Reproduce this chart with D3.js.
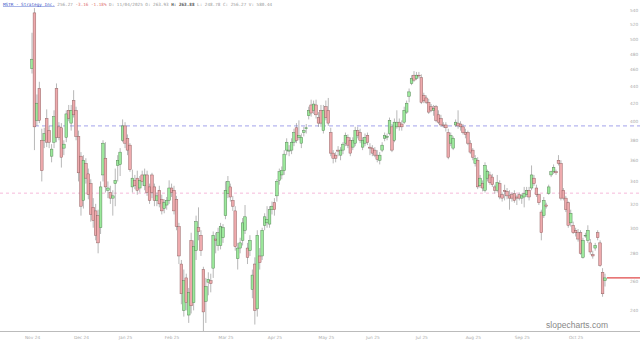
<!DOCTYPE html>
<html>
<head>
<meta charset="utf-8">
<script src="https://cdn.jsdelivr.net/npm/d3@7"></script>
<style>
  body { margin: 0; background: #fff; }
  svg { display: block; }
</style>
</head>
<body>
<svg id="chart" width="640" height="343"></svg>
<script>
// daily candles, MSTR
const opens = [461,536,401,437,380,380,403,390,364,378,437,394,393,372,383,412,398,423,412,384,364,323,357,347,338,317,314,310,300,346,362,332,330,325,338,355,356,380,395,382,375,335,341,343,334,346,336,346,335,346,335,323,332,324,316,319,323,334,332,324,301,272,240,262,237,290,245,282,300,294,268,246,259,260,269,291,286,286,292,310,329,335,323,314,276,284,290,298,284,282,254,272,241,278,278,302,304,303,315,321,327,341,346,350,370,369,370,378,393,383,377,388,392,406,418,412,418,404,
  412,390,416,412,388,367,365,370,365,370,377,383,380,373,377,390,388,373,377,385,373,372,370,365,360,370,382,383,387,394,380,394,399,397,399,410,428,443,453,449,453,450,429,426,421,416,412,416,407,403,396,396,388,377,372,396,398,397,394,388,388,377,370,357,360,336,
  338,332,343,346,344,335,332,338,328,332,331,327,328,329,326,328,325,326,328,332,334,343,334,328,313,310,319,329,346,349,349,360,357,332,325,321,304,302,298,296,296,277,294,290,288,279,284,296,288,266,260];
const highs = [508,543,430,445,392,393,413,395,376,412,443,399,398,380,412,418,418,435,416,390,368,365,362,352,342,325,320,315,340,380,378,340,336,332,352,365,372,402,399,386,377,351,346,350,345,350,352,350,338,348,338,330,336,328,324,326,341,338,336,327,304,275,268,265,255,296,290,310,317,298,270,262,266,265,297,296,300,304,303,340,345,338,327,318,288,292,308,319,288,294,268,277,298,284,300,312,318,318,322,325,342,352,354,370,382,375,382,392,398,401,387,394,397,416,424,423,424,410,
  418,418,423,426,393,370,368,374,373,378,388,386,383,383,394,394,392,383,387,388,377,375,373,370,368,378,388,387,404,397,403,412,403,401,416,423,437,453,458,457,457,454,432,429,425,419,418,418,412,407,399,399,392,388,384,402,412,400,397,392,390,380,372,365,363,346,
  341,358,351,349,347,337,346,341,330,337,334,332,330,332,328,330,329,335,335,335,355,346,337,329,315,326,321,337,350,356,351,365,360,334,327,322,315,305,300,299,298,292,296,302,291,282,288,298,290,269,265];
const lows = [455,370,395,398,340,372,373,372,358,372,378,380,353,365,378,400,390,404,380,340,310,316,338,324,305,300,290,280,295,340,330,325,320,310,318,340,345,378,372,365,349,330,333,328,330,336,332,327,320,325,318,318,317,311,312,315,320,326,311,298,272,244,236,240,232,238,240,275,290,278,227,232,250,252,262,280,282,283,288,307,325,322,314,282,268,280,286,295,272,278,248,231,236,268,275,298,300,300,311,310,322,337,342,346,365,364,366,374,377,380,372,384,387,402,405,408,403,394,
  394,387,401,395,364,357,358,364,360,366,374,372,364,370,374,382,377,370,374,375,365,364,363,358,356,368,379,380,385,368,378,392,390,390,397,408,421,441,445,447,449,419,420,419,408,410,406,399,397,394,393,389,361,374,370,394,392,390,386,382,375,366,360,354,333,334,
  331,330,340,337,335,329,330,324,322,323,324,315,322,321,319,323,320,317,326,323,332,336,326,319,290,308,316,328,344,347,346,355,323,323,313,300,301,295,293,289,279,276,292,288,279,276,282,290,270,249,256];
const closes = [473,394,420,401,350,387,378,378,371,405,383,383,363,376,408,403,412,407,384,348,318,360,343,328,311,306,294,288,335,377,335,334,325,327,341,360,368,395,377,370,351,343,336,332,341,340,346,330,323,330,323,327,320,314,321,323,334,330,314,301,278,251,260,245,252,243,285,305,297,282,239,256,261,258,294,290,296,301,300,332,340,326,318,285,284,288,304,309,277,290,264,240,294,273,298,309,307,315,318,315,340,349,350,366,378,370,378,388,380,385,383,390,393,412,409,419,407,398,
  398,412,404,398,367,362,362,369,370,376,385,375,367,380,390,385,380,380,383,378,372,367,365,361,365,375,385,384,401,370,399,399,394,394,412,420,433,449,447,453,452,421,423,421,410,412,414,401,399,396,395,393,363,385,382,399,395,394,388,386,377,368,363,362,335,343,
  334,355,349,339,337,332,339,326,325,331,327,325,325,323,325,325,327,329,332,326,346,338,328,321,296,323,318,335,349,353,348,357,325,325,315,302,312,296,296,291,280,290,294,298,281,278,286,292,271,251,262];

// x-axis tick labels and the bar they sit under
const tickIdx = [0, 20, 38, 57, 79, 99, 120, 139, 159, 180, 200, 222];
const tickLabels = ["Nov 24", "Dec 24", "Jan 25", "Feb 25", "Mar 25", "Apr 25", "May 25", "Jun 25", "Jul 25", "Aug 25", "Sep 25", "Oct 25"];
const priceTicks = [240, 260, 280, 300, 320, 340, 360, 380, 400, 420, 440, 460, 480, 500, 520, 540];
const levelBlue = 395;
const levelPink = 329.4;

const width = 640, height = 343;
const plotBottom = 331;

const svg = d3.select("#chart");

const n = closes.length;
const x = d3.scalePoint()
  .domain(d3.range(n))
  .range([32, 605]);

const y = d3.scaleLog()
  .domain([227, 555])
  .range([plotBottom, 0]);

// horizontal levels
svg.append("line")
  .attr("x1", 35).attr("x2", width)
  .attr("y1", y(levelBlue)).attr("y2", y(levelBlue))
  .attr("stroke", "#8c8ce6").attr("stroke-width", 0.8)
  .attr("stroke-dasharray", "4,3");
svg.append("line")
  .attr("x1", 0).attr("x2", width)
  .attr("y1", y(levelPink)).attr("y2", y(levelPink))
  .attr("stroke", "#f2a6cf").attr("stroke-width", 0.8)
  .attr("stroke-dasharray", "3,3");

// x axis
const xAxis = svg.append("g")
  .attr("transform", `translate(0, ${plotBottom + 0.5})`)
  .call(d3.axisBottom(x).tickValues(tickIdx).tickSize(0).tickPadding(4)
    .tickFormat((d, i) => tickLabels[i]));
xAxis.select(".domain").remove();
xAxis.append("line")
  .attr("x1", 0).attr("x2", width)
  .attr("stroke", "#bbb").attr("stroke-width", 1);
xAxis.selectAll("text")
  .attr("fill", "#aaa").attr("font-size", 4.3)
  .attr("font-family", "DejaVu Sans");

// price axis
const yAxis = svg.append("g")
  .attr("transform", "translate(628, 0)")
  .call(d3.axisRight(y).tickValues(priceTicks).tickSize(0).tickPadding(2)
    .tickFormat(d3.format("d")));
yAxis.select(".domain").remove();
yAxis.selectAll("text")
  .attr("fill", "#aaa").attr("font-size", 4.3)
  .attr("font-family", "DejaVu Sans");

// candles
const candles = svg.append("g");
const bodyW = 2.7;
d3.range(n).forEach(i => {
  const up = closes[i] >= opens[i];
  const cx = x(i);
  candles.append("line")
    .attr("x1", cx).attr("x2", cx)
    .attr("y1", y(highs[i])).attr("y2", y(lows[i]))
    .attr("stroke", "#888").attr("stroke-width", 0.6);
  const top = y(Math.max(opens[i], closes[i]));
  const bot = y(Math.min(opens[i], closes[i]));
  candles.append("rect")
    .attr("x", cx - bodyW / 2)
    .attr("y", top)
    .attr("width", bodyW)
    .attr("height", Math.max(bot - top, 0.8))
    .attr("fill", up ? "#9ce99c" : "#eeaaad")
    .attr("stroke", up ? "#4f7d4f" : "#8a5a5a")
    .attr("stroke-width", 0.45);
});

// last price line
svg.append("line")
  .attr("x1", x(n - 1) + 2).attr("x2", width)
  .attr("y1", y(closes[n - 1])).attr("y2", y(closes[n - 1]))
  .attr("stroke", "#e04848").attr("stroke-width", 1.2);

// header
const head = svg.append("text")
  .attr("x", 3).attr("y", 5.5)
  .attr("font-family", "DejaVu Sans Mono")
  .attr("font-size", 4.3)
  .attr("fill", "#999");
head.append("tspan").attr("fill", "#3a55c8").attr("text-decoration", "underline")
  .text("MSTR - Strategy Inc.");
head.append("tspan").text(" 256.27 ");
head.append("tspan").attr("fill", "#e07070").text("-3.16 -1.18%");
head.append("tspan").text(" D: 11/04/2025 O: 263.93 ");
head.append("tspan").attr("fill", "#555").attr("font-weight", "bold").text("H: 263.88");
head.append("tspan").text(" L: 248.78 C: 256.27 V: 580.44");

// watermark
svg.append("text")
  .attr("x", 608).attr("y", 328)
  .attr("text-anchor", "end")
  .attr("font-family", "Liberation Sans, Arial")
  .attr("font-size", 8.5)
  .attr("fill", "#888")
  .text("slopecharts.com");
</script>
</body>
</html>
